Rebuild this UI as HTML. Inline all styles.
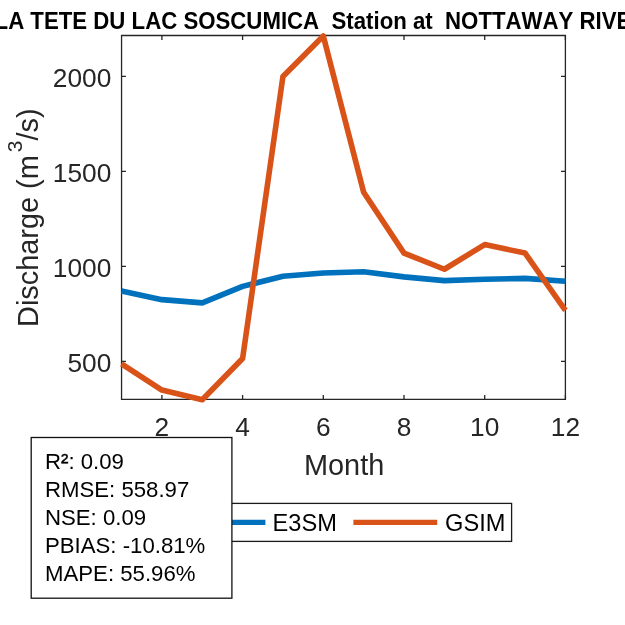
<!DOCTYPE html>
<html><head><meta charset="utf-8"><style>
html,body{margin:0;padding:0;width:625px;height:625px;overflow:hidden;background:#fff}
text{font-kerning:none}
svg{will-change:transform}
</style></head><body>
<svg width="625" height="625" viewBox="0 0 625 625" style="position:absolute;left:0;top:0;font-family:'Liberation Sans', sans-serif">
<rect x="0" y="0" width="625" height="625" fill="#ffffff"/>
<text transform="translate(313.0,28.9) scale(1,1.053)" x="0" y="0" text-anchor="middle" font-weight="bold" font-size="22.23" fill="#000" xml:space="preserve" style="white-space:pre">LA TETE DU LAC SOSCUMICA  Station at  NOTTAWAY RIVE</text>
<path d="M121.55,399.3 V35.5 H565.4 V399.3 Z" fill="none" stroke="#262626" stroke-width="1.3"/>
<path d="M161.90,399.3 v-4.4 M161.90,35.5 v4.4 M242.60,399.3 v-4.4 M242.60,35.5 v4.4 M323.30,399.3 v-4.4 M323.30,35.5 v4.4 M404.00,399.3 v-4.4 M404.00,35.5 v4.4 M484.70,399.3 v-4.4 M484.70,35.5 v4.4 M565.40,399.3 v-4.4 M565.40,35.5 v4.4 M121.55,361.40 h4.4 M565.4,361.40 h-4.4 M121.55,266.40 h4.4 M565.4,266.40 h-4.4 M121.55,171.40 h4.4 M565.4,171.40 h-4.4 M121.55,76.40 h4.4 M565.4,76.40 h-4.4" stroke="#262626" stroke-width="1.3" fill="none"/>
<defs><clipPath id="c"><rect x="116.55" y="30.5" width="453.84999999999997" height="373.8"/></clipPath></defs>
<g clip-path="url(#c)" fill="none" stroke-width="5.6" stroke-linejoin="round" stroke-linecap="butt">
<polyline points="121.55,291.10 161.90,299.65 202.25,302.88 242.60,286.35 282.95,276.28 323.30,273.05 363.65,271.72 404.00,276.85 444.35,280.65 484.70,279.32 525.05,278.37 565.40,281.22" stroke="#0072BD"/>
<polyline points="121.55,363.87 161.90,390.09 202.25,399.78 242.60,358.55 282.95,76.40 323.30,35.93 363.65,192.30 404.00,253.10 444.35,269.25 484.70,244.55 525.05,253.10 565.40,310.48" stroke="#D95319"/>
</g>
<text x="161.90" y="436.1" text-anchor="middle" font-size="26.3" fill="#262626">2</text>
<text x="242.60" y="436.1" text-anchor="middle" font-size="26.3" fill="#262626">4</text>
<text x="323.30" y="436.1" text-anchor="middle" font-size="26.3" fill="#262626">6</text>
<text x="404.00" y="436.1" text-anchor="middle" font-size="26.3" fill="#262626">8</text>
<text x="484.70" y="436.1" text-anchor="middle" font-size="26.3" fill="#262626">10</text>
<text x="565.40" y="436.1" text-anchor="middle" font-size="26.3" fill="#262626">12</text>
<text x="111.3" y="372.00" text-anchor="end" font-size="26.3" fill="#262626">500</text>
<text x="111.3" y="277.00" text-anchor="end" font-size="26.3" fill="#262626">1000</text>
<text x="111.3" y="182.00" text-anchor="end" font-size="26.3" fill="#262626">1500</text>
<text x="111.3" y="87.00" text-anchor="end" font-size="26.3" fill="#262626">2000</text>
<text x="344.1" y="474.7" text-anchor="middle" font-size="28.9" fill="#262626">Month</text>
<text transform="translate(38,217.7) rotate(-90)" text-anchor="middle" font-size="28.9" fill="#262626">Discharge (m<tspan dx="3" dy="-16" font-size="21">3</tspan><tspan dx="0" dy="16">/s)</tspan></text>
<rect x="160" y="503.4" width="351.6" height="38.0" fill="#fff" stroke="#1a1a1a" stroke-width="1.3"/>
<path d="M181.6,522.4 H265.4" stroke="#0072BD" stroke-width="5.4"/>
<path d="M353.4,522.4 H437.2" stroke="#D95319" stroke-width="5.4"/>
<text x="272.6" y="531" font-size="23.6" fill="#000">E3SM</text>
<text x="445.1" y="531" font-size="23.6" fill="#000">GSIM</text>
<rect x="31.2" y="437.5" width="200.7" height="160.7" fill="#fff" stroke="#111" stroke-width="1.3"/>
<text x="45.0" y="468.60" font-size="22.2" fill="#000">R<tspan stroke="#000" stroke-width="0.4">²</tspan>: 0.09</text>
<text x="45.0" y="496.67" font-size="22.2" fill="#000">RMSE: 558.97</text>
<text x="45.0" y="524.74" font-size="22.2" fill="#000">NSE: 0.09</text>
<text x="45.0" y="552.81" font-size="22.2" fill="#000">PBIAS: -10.81%</text>
<text x="45.0" y="580.88" font-size="22.2" fill="#000">MAPE: 55.96%</text>
</svg>
</body></html>
